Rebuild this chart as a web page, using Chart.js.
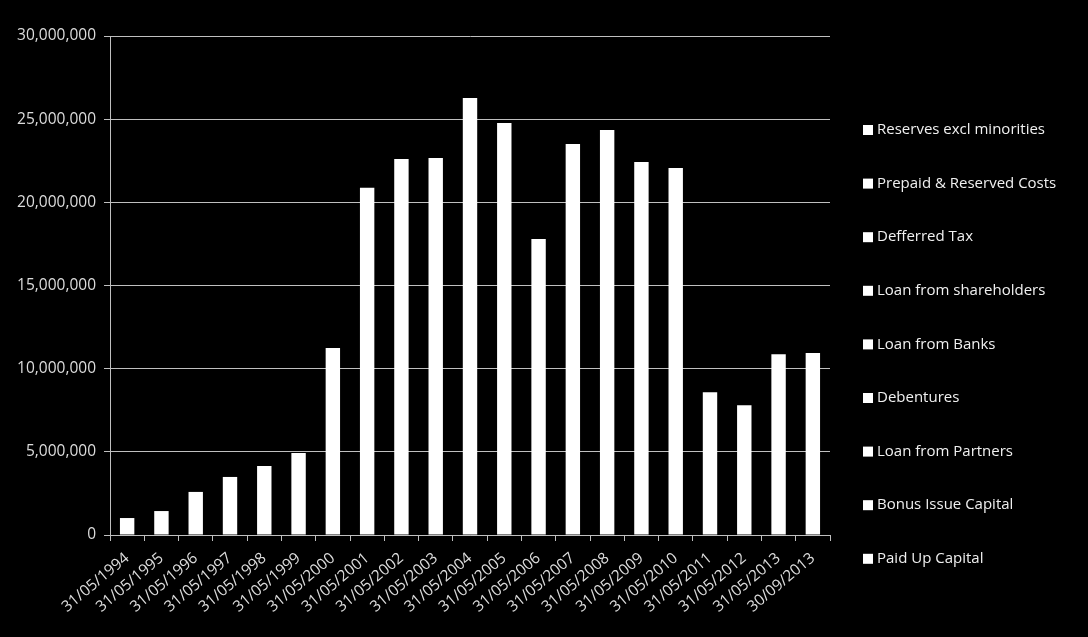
<!DOCTYPE html>
<html>
<head>
<meta charset="utf-8">
<script src="https://cdn.jsdelivr.net/npm/chart.js@4.4.0/dist/chart.umd.min.js"></script>
<style>
  html, body { margin: 0; padding: 0; background: #000; }
  #wrap { width: 1088px; height: 637px; }
</style>
</head>
<body>
<div id="wrap"><canvas id="balance"></canvas></div>
<script>
// Categories (balance sheet dates)
const dates = ['31/05/1994', '31/05/1995', '31/05/1996', '31/05/1997', '31/05/1998', '31/05/1999',
  '31/05/2000', '31/05/2001', '31/05/2002', '31/05/2003', '31/05/2004', '31/05/2005', '31/05/2006',
  '31/05/2007', '31/05/2008', '31/05/2009', '31/05/2010', '31/05/2011', '31/05/2012', '31/05/2013',
  '30/09/2013'];

// Stack components, bottom to top (all drawn white, so only the totals can be read)
const series_names = ['Paid Up Capital', 'Bonus Issue Capital', 'Loan from Partners', 'Debentures',
  'Loan from Banks', 'Loan from shareholders', 'Defferred Tax', 'Prepaid & Reserved Costs',
  'Reserves excl minorities'];

// Total stacked height
const totals = [1020000, 1440000, 2590000, 3490000, 4150000, 4930000, 11240000, 20870000, 22600000,
  22670000, 26280000, 24770000, 17800000, 23500000, 24350000, 22430000, 22070000, 8580000, 7800000,
  10870000, 10940000];

const y_ticks = [0, 5000000, 10000000, 15000000, 20000000, 25000000, 30000000];

const FONT = '"Open Sans", "Liberation Sans", sans-serif';

let datasets = series_names.map(function (name, i) {
    return {
        label: name,
        // composition unknown: the whole total sits in one series
        data: i === 0 ? totals : dates.map(() => 0),
        backgroundColor: '#ffffff',
        borderWidth: 0,
        barPercentage: 0.42,
        categoryPercentage: 1.0
    };
});

// black background + legend on the right
const drawBits = {
    id: 'drawBits',
    beforeDraw(chart) {
        const ctx = chart.ctx;
        ctx.save();
        ctx.fillStyle = '#000';
        ctx.fillRect(0, 0, chart.width, chart.height);
        ctx.restore();
    },
    afterDraw(chart) {
        const ctx = chart.ctx;
        const names = chart.data.datasets.map(d => d.label).reverse();
        ctx.save();
        ctx.font = '15px ' + FONT;
        ctx.textBaseline = 'middle';
        for (let i = 0; i < names.length; i++) {
            const y = 130 + i * 53.6;
            ctx.fillStyle = '#ffffff';
            ctx.fillRect(863, y - 5, 10, 10);
            ctx.fillStyle = '#f0f0f0';
            ctx.fillText(names[i], 877, y);
        }
        ctx.restore();
    }
};

new Chart(document.getElementById('balance'), {
    type: 'bar',
    data: { labels: dates, datasets: datasets },
    plugins: [drawBits],
    options: {
        responsive: true,
        maintainAspectRatio: false,
        animation: false,
        devicePixelRatio: 1,
        layout: { padding: { top: 36, right: 258, left: 0, bottom: 0 } },
        plugins: {
            legend: { display: false },
            tooltip: { enabled: false }
        },
        scales: {
            x: {
                stacked: true,
                afterFit: function (scale) { scale.height = 102; },
                grid: {
                    offset: true,
                    drawOnChartArea: false,
                    drawTicks: true,
                    tickLength: 6,
                    color: '#bfbfbf'
                },
                border: { color: '#bfbfbf' },
                ticks: {
                    color: '#dcdcdc',
                    font: { family: FONT, size: 15.5 },
                    minRotation: 40,
                    maxRotation: 40,
                    autoSkip: false,
                    padding: 8
                }
            },
            y: {
                stacked: true,
                min: 0,
                max: 30000000,
                afterFit: function (scale) { scale.width = 110; },
                afterBuildTicks: function (scale) {
                    scale.ticks = y_ticks.map(v => ({ value: v }));
                },
                grid: {
                    color: '#bfbfbf',
                    drawTicks: true,
                    tickLength: 6
                },
                border: { color: '#bfbfbf' },
                ticks: {
                    color: '#dcdcdc',
                    font: { family: FONT, size: 15.5 },
                    padding: 8,
                    callback: v => v.toLocaleString('en-US')
                }
            }
        }
    }
});
</script>
</body>
</html>
